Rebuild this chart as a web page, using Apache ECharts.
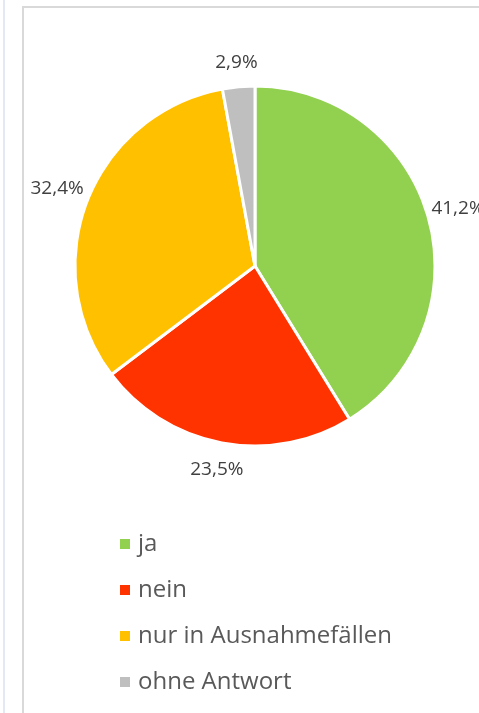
<!DOCTYPE html>
<html>
<head>
<meta charset="utf-8">
<script src="https://cdn.jsdelivr.net/npm/echarts@6/dist/echarts.min.js"></script>
<style>
  html, body { margin: 0; padding: 0; background: #fff; }
  #wrap { position: relative; width: 479px; height: 713px; overflow: hidden; }
  #edge { position: absolute; left: 3px; top: 0; width: 2px; height: 713px; background: #e3e8f1; }
  #frame { position: absolute; left: 22px; top: 6px; width: 470px; height: 720px;
           border-left: 2px solid #d9d9d9; border-top: 2px solid #d9d9d9; }
  #chart { position: absolute; left: 0; top: 0; width: 479px; height: 713px; }
</style>
</head>
<body>
<div id="wrap">
  <div id="edge"></div>
  <div id="frame"></div>
  <div id="chart"></div>
</div>
<script>
// Survey answers, share of respondents in percent
const categories = ['ja', 'nein', 'nur in Ausnahmefällen', 'ohne Antwort'];
const shares = [41.2, 23.5, 32.4, 2.9];
const colors = ['#92D050', '#FF3300', '#FFC000', '#BFBFBF'];

const FONT = '"Open Sans", "Noto Sans", sans-serif';
const CX = 255, CY = 266, R = 180;
const total = shares.reduce((a, b) => a + b, 0);
const fmt = v => v.toFixed(1).replace('.', ',') + '%';

const sliceData = categories.map((name, i) => ({
  name: name,
  value: shares[i],
  itemStyle: { color: colors[i] }
}));

// Place each percentage just outside the rim, on the bisector of its slice,
// with the label box pushed out so that it clears the circle.
function placeLabel(params) {
  const i = params.dataIndex;
  const before = shares.slice(0, i).reduce((a, b) => a + b, 0);
  const mid = (before + shares[i] / 2) / total * Math.PI * 2;
  const dx = Math.sin(mid), dy = -Math.cos(mid);
  const w = params.labelRect.width, h = params.labelRect.height;
  const d = R - 1 + Math.abs(dx) * w / 2 + Math.abs(dy) * (h / 2 + 14);
  return { x: CX + d * dx, y: CY + d * dy, align: 'center', verticalAlign: 'middle' };
}

const chart = echarts.init(document.getElementById('chart'), null, { renderer: 'canvas' });
chart.setOption({
  animation: false,
  backgroundColor: 'transparent',
  legend: {
    data: categories,
    orient: 'vertical',
    left: 113,
    top: 527,
    icon: 'rect',
    itemWidth: 12,
    itemHeight: 12,
    itemGap: 22,
    textStyle: { fontFamily: FONT, fontSize: 24, color: '#595959', lineHeight: 24, padding: [0, 0, 0, 2] }
  },
  series: [
    {
      type: 'pie',
      center: [CX, CY],
      radius: [0, R],
      startAngle: 90,
      clockwise: true,
      avoidLabelOverlap: false,
      label: {
        show: true,
        position: 'outside',
        formatter: p => fmt(p.value),
        fontFamily: FONT,
        fontSize: 19,
        color: '#404040'
      },
      labelLine: { show: false },
      labelLayout: placeLabel,
      itemStyle: { borderColor: '#ffffff', borderWidth: 3 },
      emphasis: { disabled: true },
      data: sliceData
    }
  ]
});
</script>
</body>
</html>
